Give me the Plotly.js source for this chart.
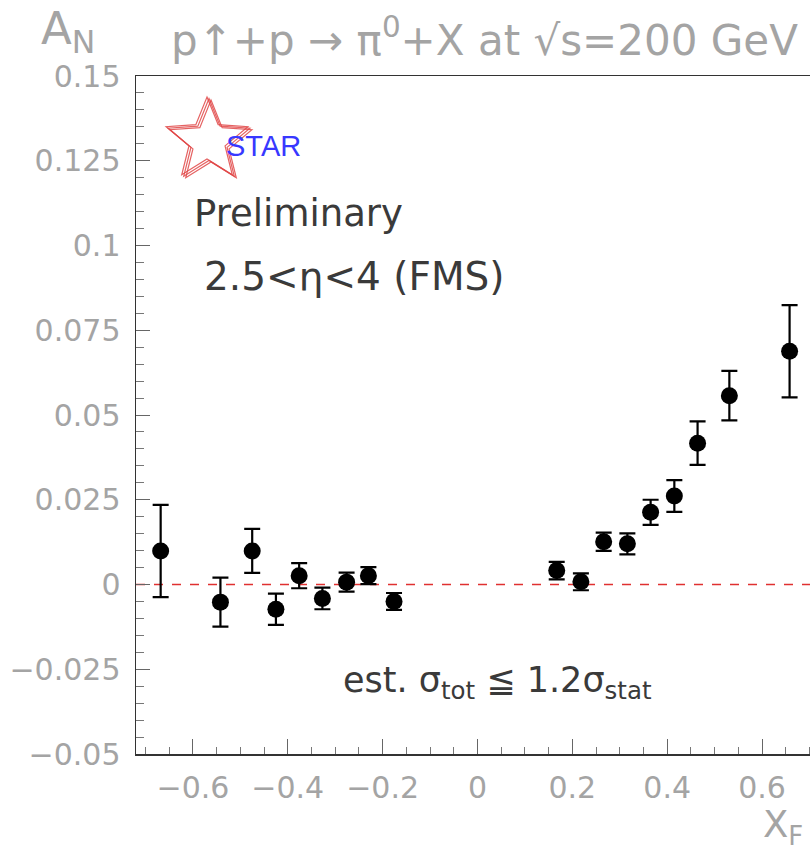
<!DOCTYPE html>
<html>
<head>
<meta charset="utf-8">
<script src="https://cdn.plot.ly/plotly-3.0.1.min.js"></script>
<style>
html,body{margin:0;padding:0;overflow:hidden;background:#fff;}
#chart{width:830px;height:850px;}
</style>
</head>
<body>
<div id="chart"></div>
<script>
// Data
const xF = [-0.668, -0.542, -0.475, -0.425, -0.376, -0.327, -0.276, -0.230, -0.176,
            0.167, 0.218, 0.266, 0.316, 0.365, 0.415, 0.464, 0.531, 0.658];
const AN = [0.0099, -0.0052, 0.0099, -0.0073, 0.0026, -0.0041, 0.0007, 0.0026, -0.0050,
            0.0041, 0.0008, 0.0126, 0.0120, 0.0213, 0.0261, 0.0417, 0.0557, 0.0688];
const ANerr = [0.0136, 0.0072, 0.0065, 0.0046, 0.0037, 0.0032, 0.0028, 0.0025, 0.0025,
               0.0026, 0.0025, 0.0027, 0.0031, 0.0037, 0.0047, 0.0064, 0.0073, 0.0136];
const xTicks = [-0.6, -0.4, -0.2, 0, 0.2, 0.4, 0.6];
const xTickText = ['\u22120.6', '\u22120.4', '\u22120.2', '0', '0.2', '0.4', '0.6'];
const yTicks = [-0.05, -0.025, 0, 0.025, 0.05, 0.075, 0.1, 0.125, 0.15];
const yTickText = ['\u22120.05', '\u22120.025', '0', '0.025', '0.05', '0.075', '0.1', '0.125', '0.15'];

const W = 830, H = 850;
const mL = 136, mT = 76, plotW = 683, plotH = 678;
const grey = '#a4a4a4';
const dark = '#3a3a3a';

function starPath(cx, cy, R, r) {
  let d = '';
  for (let i = 0; i < 10; i++) {
    const ang = (-90 + i * 36) * Math.PI / 180;
    const rad = (i % 2 === 0) ? R : r;
    const px = cx + rad * Math.cos(ang);
    const py = cy + rad * Math.sin(ang);
    const u = (px - mL) / plotW;
    const v = (mT + plotH - py) / plotH;
    d += (i === 0 ? 'M' : 'L') + u.toFixed(5) + ',' + v.toFixed(5);
  }
  return d + 'Z';
}
const shapes = [];
[[0,0],[2,1.5],[4,3]].forEach(o => {
  shapes.push({type:'path', xref:'paper', yref:'paper', path: starPath(207 + o[0], 140 + o[1], 43, 19),
    line:{color:'rgba(225,70,70,0.85)', width:1.2}});
});
shapes.push({type:'line', xref:'paper', yref:'y', x0:0, x1:1, y0:0, y1:0,
  line:{color:'#e03030', width:1.5, dash:'dash'}, layer:'below'});

const trace = {
  x: xF, y: AN, type: 'scatter', mode: 'markers',
  marker: {color: '#000', size: 17},
  error_y: {type: 'data', array: ANerr, visible: true, color: '#000', thickness: 2.2, width: 8},
  cliponaxis: false, showlegend: false
};

const px2paperX = px => (px - mL) / plotW;
const px2paperY = py => (mT + plotH - py) / plotH;
function ann(text, px, py, font) {
  return {text: text, x: px2paperX(px), y: px2paperY(py), xref: 'paper', yref: 'paper',
          xanchor: 'center', yanchor: 'middle', showarrow: false, font: font};
}

const annotations = [
  ann('p\u2191+p \u2192 \u03c0<sup>0</sup>+X at \u221as=200 GeV', 484, 38, {family:'DejaVu Sans', size:42, color: grey}),
  ann('A<sub>N</sub>', 68, 31, {family:'DejaVu Sans', size:45, color: grey}),
  ann('X<sub>F</sub>', 783, 827, {family:'DejaVu Sans', size:37, color: grey}),
  ann('STAR', 263, 146, {family:'Liberation Sans', size:29, color:'#3838ff'}),
  ann('Preliminary', 298, 213, {family:'DejaVu Sans', size:37, color: dark}),
  ann('2.5<\u03b7<4 (FMS)', 354, 276, {family:'DejaVu Sans', size:39, color: dark}),
  ann('est. \u03c3<sub>tot</sub> \u2266 1.2\u03c3<sub>stat</sub>', 497, 682, {family:'DejaVu Sans', size:35, color: dark})
];

const layout = {
  width: W, height: H,
  margin: {l: mL, r: W - mL - plotW, t: mT, b: H - mT - plotH},
  paper_bgcolor: '#fff', plot_bgcolor: '#fff',
  showlegend: false,
  xaxis: {
    range: [-0.72, 0.72], showgrid: false, zeroline: false,
    showline: true, mirror: true, linecolor: '#333', linewidth: 1.5,
    ticks: 'inside', ticklen: 15, tickwidth: 1, tickcolor: '#666',
    tickvals: xTicks, ticktext: xTickText,
    minor: {dtick: 0.05, tick0: 0, ticks: 'inside', ticklen: 7, tickcolor: '#777', tickwidth: 1, showgrid: false},
    tickfont: {family: 'DejaVu Sans', size: 30, color: grey},
    ticklabelstandoff: 6
  },
  yaxis: {
    range: [-0.05, 0.15], showgrid: false, zeroline: false,
    showline: true, mirror: true, linecolor: '#333', linewidth: 1.5,
    ticks: 'inside', ticklen: 14, tickwidth: 1, tickcolor: '#666',
    tickvals: yTicks, ticktext: yTickText,
    minor: {dtick: 0.005, tick0: 0, ticks: 'inside', ticklen: 8, tickcolor: '#777', tickwidth: 1, showgrid: false},
    tickfont: {family: 'DejaVu Sans', size: 30, color: grey},
    ticklabelstandoff: 8
  },
  shapes: shapes,
  annotations: annotations
};

Plotly.newPlot('chart', [trace], layout, {displayModeBar: false, staticPlot: true});
</script>
</body>
</html>
